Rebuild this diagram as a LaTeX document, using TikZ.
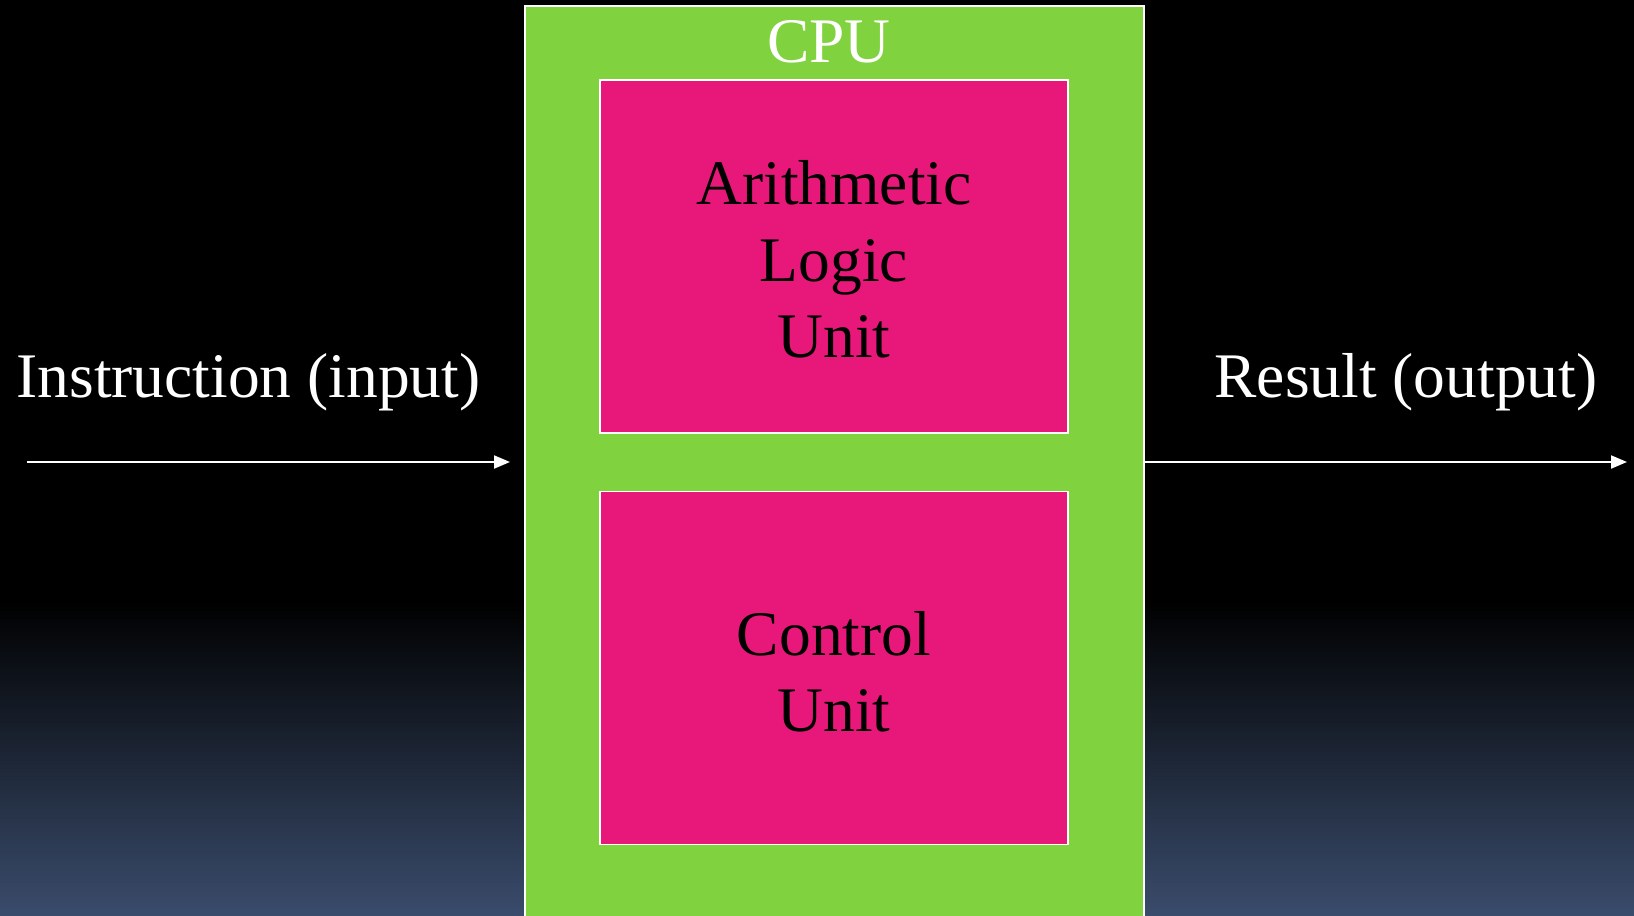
\documentclass[tikz,border=0pt]{standalone}
\usepackage{fontspec}
\setmainfont{Liberation Serif}
\usetikzlibrary{arrows.meta}
\definecolor{cpugreen}{RGB}{128,210,62}
\definecolor{unitpink}{RGB}{232,24,123}
\definecolor{skyblue}{RGB}{58,76,108}
\tikzset{
  bigtext/.style={font=\fontsize{63.5}{76.5}\selectfont},
  cpubox/.style={draw=white, line width=2pt, fill=cpugreen, rectangle,
    inner sep=0pt},
  unitbox/.style={draw=white, line width=1.5pt, fill=unitpink, rectangle,
    inner sep=0pt, minimum width=468pt, minimum height=353pt},
  unittext/.style={bigtext, text=black, align=center, inner sep=0pt},
  label/.style={bigtext, text=white, anchor=base, inner sep=0pt},
  flow/.style={draw=white, line width=2pt,
    -{Triangle[length=16pt,width=13pt]}},
}
\begin{document}
\begin{tikzpicture}[x=1pt,y=-1pt]
  % frame and background
  \useasboundingbox (0,0) rectangle (1634,916);
  \clip (0,0) rectangle (1634,916);
  \fill[black] (0,0) rectangle (1634,600);
  \shade[top color=black, bottom color=skyblue] (0,600) rectangle (1634,916);

  % processor with its two units
  \node[cpubox, minimum width=619pt, minimum height=926pt] (cpu) at (834.5,469) {};
  \node[label] (cpulabel) at (829,62) {CPU};
  \node[unitbox] (alu) at (834,256.5) {};
  \node[unitbox] (cu) at (834,668) {};
  \node[unittext, yshift=-3pt] (alutext) at (alu.center) {Arithmetic\\Logic\\Unit};
  \node[unittext, yshift=-4pt] (cutext) at (cu.center) {Control\\Unit};

  % input and output
  \node[label] (inlabel) at (248.5,397) {Instruction (input)};
  \node[label] (outlabel) at (1406,397) {Result (output)};
  \coordinate (instart) at (27,462);
  \coordinate (inend) at (510,462);
  \coordinate (outend) at (1627,462);
  \draw[flow] (instart) -- (inend);
  \draw[flow] (cpu.east |- outend) -- (outend);
\end{tikzpicture}
\end{document}
